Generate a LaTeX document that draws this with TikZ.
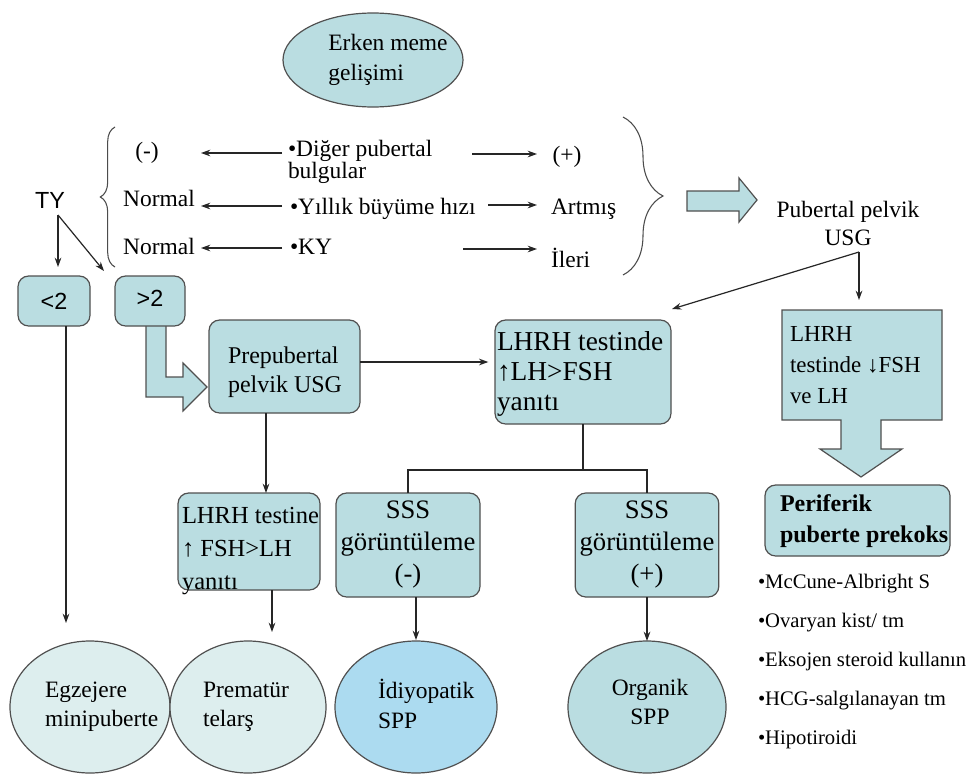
\documentclass[tikz,border=0pt]{standalone}
\usepackage{fontspec}
\setmainfont{Liberation Serif}
\newfontfamily\arialf{Liberation Sans}
\usetikzlibrary{arrows.meta,decorations.pathreplacing,shapes.geometric}
\definecolor{boxfill}{RGB}{186,221,225}
\definecolor{lightc}{RGB}{221,238,238}
\definecolor{idc}{RGB}{172,219,240}
\definecolor{bord}{RGB}{80,80,80}
\newcommand\myfs[2]{\fontsize{#1}{#2}\selectfont}
\begin{document}
\begin{tikzpicture}[x=0.75pt,y=-0.75pt,
  txt/.style={inner sep=0pt, outer sep=0pt, font=\myfs{17.6}{22}},
  box/.style={draw=bord, fill=boxfill, rounded corners=8pt, line width=0.9pt, outer sep=0pt},
  ell/.style={ellipse, draw=bord, line width=0.9pt, inner sep=0pt, outer sep=0pt},
  arr/.style={-{Stealth[length=7pt,width=5pt]}, line width=0.9pt, draw=black!85},
  ln/.style={line width=0.9pt, draw=black!85},
  blk/.style={draw=bord, fill=boxfill, line width=0.9pt, line join=miter},
  brc/.style={decorate, draw=black!70, line width=0.8pt}]
\useasboundingbox (0,0) rectangle (970,778);
\fill[white] (0,0) rectangle (970,778);

% top ellipse
\node[ell, fill=boxfill, minimum width=135pt, minimum height=70.5pt] (top) at (373,60) {};
\node[txt, align=left] (topT) at (388,60) {Erken meme\\geliş{}imi};

% braces
\draw[brc, decoration={brace, amplitude=11pt}] (115,267) -- (115,127);
\draw[brc, decoration={brace, amplitude=30pt}] (623,117) -- (623,275);

% left results
\node[txt] (neg) at (147,153) {(-)};
\node[txt] (nor1) at (159,198) {Normal};
\node[txt] (nor2) at (159,246) {Normal};
% middle items
\node[txt, anchor=west, align=left, font=\myfs{17.6}{16.5}] (dig) at (288,162) {•Diğer pubertal\\bulgular};
\node[txt, anchor=west] (yil) at (290,209) {•Yıllık büyüme hızı};
\node[txt, anchor=west] (ky) at (290,247) {•KY};
% right results
\node[txt] (pos) at (567,157) {(+)};
\node[txt, anchor=west] (art) at (551,209) {Artmış};
\node[txt, anchor=west] (ileri) at (551,258) {İleri};

\coordinate (l1s) at (282,153); \coordinate (l1e) at (201,153);
\coordinate (l2s) at (282,206); \coordinate (l2e) at (201,206);
\coordinate (l3s) at (282,248); \coordinate (l3e) at (201,248);
\coordinate (r1s) at (472,154); \coordinate (r1e) at (537,154);
\coordinate (r2s) at (488,205); \coordinate (r2e) at (537,205);
\coordinate (r3s) at (463,249); \coordinate (r3e) at (537,249);
\draw[arr] (l1s) -- (l1e);
\draw[arr] (l2s) -- (l2e);
\draw[arr] (l3s) -- (l3e);
\draw[arr] (r1s) -- (r1e);
\draw[arr] (r2s) -- (r2e);
\draw[arr] (r3s) -- (r3e);

% TY
\node[txt, font=\arialf\myfs{17.5}{20}] (ty) at (50,200) {TY};
\coordinate (tyb) at (58,215);

% small boxes
\draw[blk] (146,318) -- (146,397) -- (183,397) -- (183,411) -- (207,387) -- (183,363) -- (183,377) -- (166,377) -- (166,318) -- cycle;
\node[box, minimum width=54pt, minimum height=37.5pt, font=\arialf\myfs{17.5}{20}] (lt2) at (54,301) {<2};
\node[box, minimum width=52.5pt, minimum height=37.5pt, font=\arialf\myfs{17.5}{20}] (gt2) at (150,301) {\raisebox{4pt}{>2}};
\draw[arr] (tyb) -- (58,267);
\draw[arr] (tyb) -- (104,271);

% prepubertal
\node[box, minimum width=113.25pt, minimum height=69.75pt] (prep) at (284.5,366.5) {};
\node[txt, anchor=west, align=left, font=\myfs{18}{22}] (prepT) at (228,372) {Prepubertal\\pelvik USG};

% LHRH testinde (central)
\node[box, minimum width=132pt, minimum height=78pt] (lh1) at (583,372) {};
\node[txt, anchor=west, align=left, font=\myfs{20.5}{22.5}] (lh1T) at (497,374) {LHRH testinde\\↑LH>FSH\\yanıtı};
\draw[arr, shorten >=5pt] (prep.east |- 0,362) -- (lh1.west |- 0,362);

% right block arrow
\draw[blk] (687,191) -- (739,191) -- (739,178) -- (757,200) -- (739,222) -- (739,211) -- (687,211) -- cycle;
\node[txt, align=center, font=\myfs{17.6}{21}] (pub) at (848,223) {Pubertal pelvik\\USG};
\coordinate (pubb) at (859,252);
\draw[arr] (pubb) -- (672,309);
\draw[arr] (pubb) -- (859,300);

% callout
\draw[blk] (782,310) -- (942,310) -- (942,420) -- (881,420) -- (881,449) -- (902,449) -- (861,477) -- (820,449) -- (841,449) -- (841,420) -- (782,420) -- cycle;
\node[txt, anchor=west, align=left, font=\myfs{17.2}{23.5}] (lh3T) at (790,365) {LHRH\\testinde ↓FSH\\ve LH};

% periferik
\node[box, minimum width=138.75pt, minimum height=53.25pt] (peri) at (857.5,520.5) {};
\node[txt, anchor=west, align=left, font=\bfseries\myfs{18}{23}] (periT) at (780,521) {Periferik\\puberte prekoks};

% list
\node[txt, anchor=west, font=\myfs{15.5}{18}] (li1) at (758,584) {•McCune-Albright S};
\node[txt, anchor=west, font=\myfs{15.5}{18}] (li2) at (758,623) {•Ovaryan kist/ tm};
\node[txt, anchor=west, font=\myfs{15.5}{18}] (li3) at (758,662) {•Eksojen steroid kullanın};
\node[txt, anchor=west, font=\myfs{15.5}{18}] (li4) at (758,701) {•HCG-salgılanayan tm};
\node[txt, anchor=west, font=\myfs{15.5}{18}] (li5) at (758,740) {•Hipotiroidi};

% second row boxes
\node[box, minimum width=106.5pt, minimum height=72.75pt] (lh2) at (249,541.5) {};
\node[txt, anchor=west, align=left, font=\myfs{18.4}{24.5}] (lh2T) at (182,551) {LHRH testine\\↑ FSH>LH\\yanıtı};
\node[box, minimum width=108pt, minimum height=78pt, align=center, font=\myfs{20}{24}] (sss1) at (408,545) {SSS\\görüntüleme\\(-)};
\node[box, minimum width=106.5pt, minimum height=78pt, align=center, font=\myfs{20}{24}] (sss2) at (647,545) {SSS\\görüntüleme\\(+)};

\draw[arr] (266,413) -- (266,493);
\coordinate (jn) at (lh1.south |- 0,470);
\draw[ln] (lh1.south) -- (jn);
\draw[ln] (sss1.north) |- (jn -| sss2.north) -- (sss2.north);

% bottom ellipses
\node[ell, fill=lightc, minimum width=120pt, minimum height=99pt] (egz) at (90,707) {};
\node[ell, fill=lightc, minimum width=117pt, minimum height=99pt] (prem) at (248,707) {};
\node[ell, fill=idc, minimum width=121.5pt, minimum height=99pt] (idio) at (416,707) {};
\node[ell, fill=boxfill, minimum width=118.5pt, minimum height=99pt] (org) at (647,707) {};
\node[txt, anchor=west, align=left] (egzT) at (45,707) {Egzejere\\minipuberte};
\node[txt, anchor=west, align=left] (premT) at (203,707) {Prematür\\telarş};
\node[txt, anchor=west, align=left] (idioT) at (378,704) {İdiyopatik\\SPP};
\node[txt, align=center] (orgT) at (650,702) {Organik\\SPP};

\draw[arr] ([xshift=9pt]lt2.south) -- ++(0,297);
\draw[arr] (272,590) -- (272,632);
\draw[arr] (416,597) -- (416,640);
\draw[arr] (sss2.south) -- (org.north);
\end{tikzpicture}
\end{document}
